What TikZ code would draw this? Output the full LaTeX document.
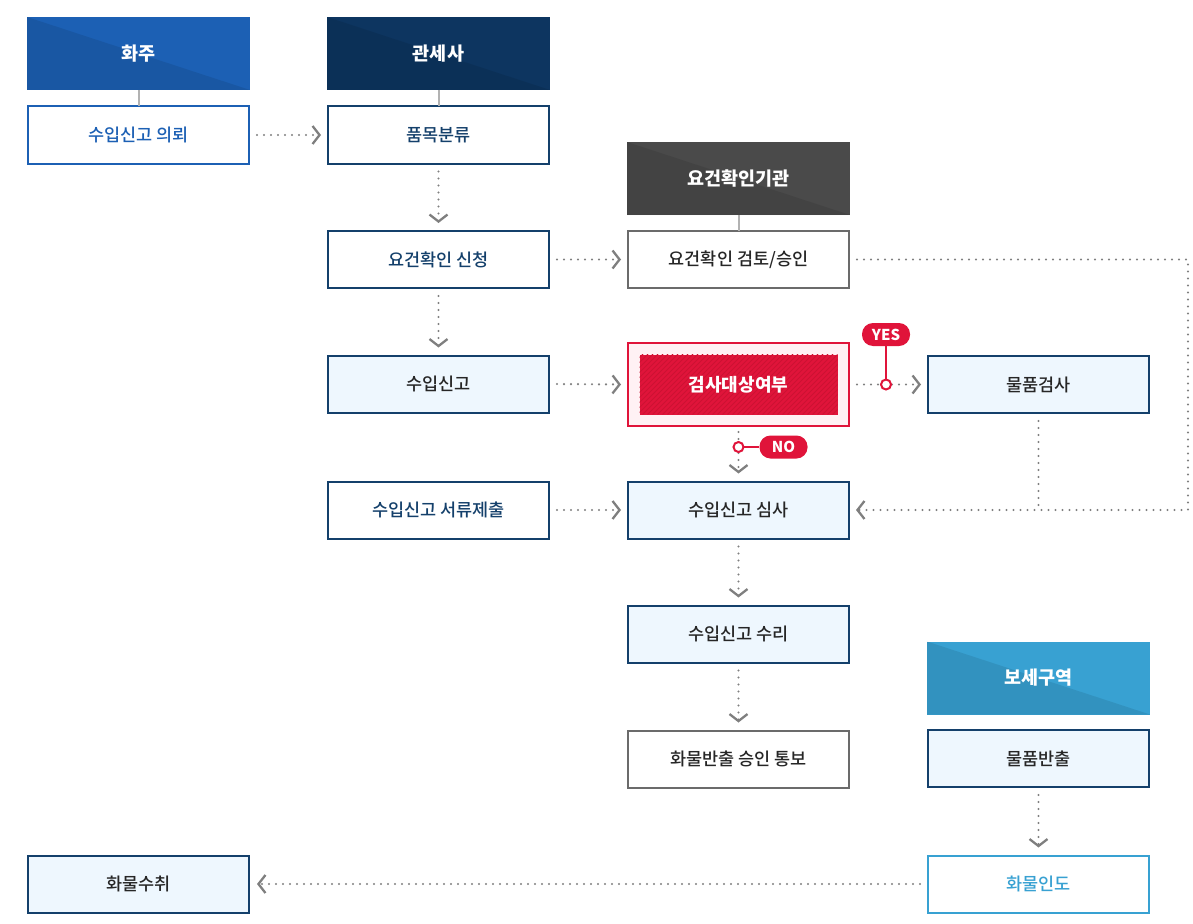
\documentclass[tikz,border=0pt]{standalone}
\usepackage{fontspec}
\setmainfont{Noto Sans CJK KR}
\newfontfamily\medfont{Noto Sans CJK KR Medium}
\usetikzlibrary{positioning,arrows.meta}

\definecolor{shipblue}{HTML}{1C60B4}
\definecolor{brokernavy}{HTML}{0D3560}
\definecolor{agencygray}{HTML}{4A4A4A}
\definecolor{bondblue}{HTML}{38A1D2}
\definecolor{navyline}{HTML}{14406B}
\definecolor{paleblue}{HTML}{EEF7FE}
\definecolor{alertred}{HTML}{E0143A}
\definecolor{hatchred}{HTML}{CC1232}
\definecolor{palered}{HTML}{FFF1F4}
\definecolor{dotgray}{HTML}{7F7F7F}
\definecolor{boxgray}{HTML}{6B6B6B}

\begin{document}
\begin{tikzpicture}[x=1pt, y=1pt,
    every node/.style={font=\medfont\fontsize{17.5pt}{20pt}\selectfont},
    head/.style={minimum width=223pt, minimum height=73pt, inner sep=0pt, outer sep=0pt,
        text=white, font=\fontsize{18.5pt}{20pt}\selectfont\bfseries,
        path picture={\fill[black, opacity=0.09]
            (path picture bounding box.north west) --
            (path picture bounding box.south east) --
            (path picture bounding box.south west) -- cycle;}},
    card/.style={draw, line width=2pt, minimum width=221pt, minimum height=57pt,
        inner sep=0pt, outer sep=0pt},
    bluebox/.style={card, draw=shipblue, fill=white, text=shipblue},
    navybox/.style={card, draw=navyline, fill=white, text=navyline},
    fillbox/.style={card, draw=navyline, fill=paleblue, text=black!85},
    graybox/.style={card, draw=boxgray, fill=white, text=black!85},
    lightbox/.style={card, draw=bondblue, fill=white, text=bondblue},
    flow/.style={draw=dotgray, line width=2.4pt, line cap=round, dash pattern=on 0pt off 7pt,
        -{Straight Barb[length=7pt, width=18pt, line width=2.3pt]}},
    dots/.style={draw=dotgray, line width=2.4pt, line cap=round, dash pattern=on 0pt off 7pt},
    stem/.style={draw=black!30, line width=2pt},
    badge/.style={fill=alertred, text=white, rounded corners=11pt, minimum width=48pt,
        minimum height=23pt, inner sep=0pt, font=\fontsize{15pt}{16pt}\selectfont\bfseries},
    ring/.style={circle, draw=alertred, fill=white, line width=2pt, minimum size=10pt, inner sep=0pt}
]
    \useasboundingbox (0,0) rectangle (1193,-923);

    \node[head, fill=shipblue] (shipper head) at (138.5,-53.5) {화주};
    \node[bluebox, below=16.5pt of shipper head] (import request) {수입신고 의뢰};
    \draw[stem] (shipper head) -- (import request);

    \node[head, fill=brokernavy] (broker head) at (438.5,-53.5) {관세사};
    \node[navybox, below=16.5pt of broker head] (classification) {품목분류};
    \node[navybox, below=67.5pt of classification] (requirement request) {요건확인 신청};
    \node[fillbox, below=67.5pt of requirement request] (import declaration) {수입신고};
    \node[navybox, below=69pt of import declaration] (document submission) {수입신고 서류제출};
    \draw[stem] (broker head) -- (classification);

    \node[head, fill=agencygray] (agency head) at (738.5,-178.5) {요건확인기관};
    \node[graybox, below=16pt of agency head] (requirement review) {요건확인 검토/승인};
    \draw[stem] (agency head) -- (requirement review);

    \node[draw=alertred, fill=palered, line width=2pt, minimum width=221pt, minimum height=83pt,
        inner sep=0pt, outer sep=0pt, below=55pt of requirement review] (inspection check) {};
    \node[fill=alertred, minimum width=198pt, minimum height=60pt, inner sep=0pt,
        path picture={\foreach \s in {0,5,...,260}
            \draw[hatchred, line width=0.9pt]
                ([xshift=\s pt-62pt]path picture bounding box.south west) -- ++(62pt,62pt);}]
        (inspection inner) at (inspection check.center) {};
    \node[text=white, font=\fontsize{18pt}{20pt}\selectfont\bfseries] (inspection label) at (inspection check.center) {검사대상여부};

    \node[fillbox, below=55.5pt of inspection check] (import review) {수입신고 심사};
    \node[fillbox, below=67pt of import review] (import acceptance) {수입신고 수리};
    \node[graybox, below=68pt of import acceptance] (release notice) {화물반출 승인 통보};

    \node[fillbox, right=79pt of inspection check] (goods inspection) {물품검사};
    \node[head, fill=bondblue] (bonded head) at (1038.5,-678) {보세구역};
    \node[fillbox, below=15.5pt of bonded head] (goods release) {물품반출};
    \node[lightbox, below=68.5pt of goods release] (cargo delivery) {화물인도};
    \node[fillbox] (cargo receipt) at (import request |- cargo delivery) {화물수취};

    \draw[flow] ([xshift=8pt]import request.east) -- ([xshift=-7pt]classification.west);
    \draw[flow] ([yshift=-8pt]classification.south) -- ([yshift=8pt]requirement request.north);
    \draw[flow] ([xshift=8pt]requirement request.east) -- ([xshift=-7pt]requirement review.west);
    \draw[flow] ([yshift=-8pt]requirement request.south) -- ([yshift=8pt]import declaration.north);
    \draw[flow] ([xshift=8pt]import declaration.east) -- ([xshift=-7pt]inspection check.west);
    \draw[flow] ([xshift=8pt]document submission.east) -- ([xshift=-7pt]import review.west);
    \draw[flow] ([yshift=-6pt]inspection check.south) -- ([yshift=8pt]import review.north);
    \draw[flow] ([yshift=-8pt]import review.south) -- ([yshift=8pt]import acceptance.north);
    \draw[flow] ([yshift=-8pt]import acceptance.south) -- ([yshift=8pt]release notice.north);
    \draw[flow] ([xshift=8pt]inspection check.east) -- ([xshift=-7pt]goods inspection.west);
    \draw[flow] ([yshift=-8pt]goods release.south) -- ([yshift=8pt]cargo delivery.north);
    \draw[flow] ([xshift=-8pt]cargo delivery.west) -- ([xshift=8pt]cargo receipt.east);

    \coordinate (loop right) at (1188,0);
    \draw[flow] ([xshift=8pt]requirement review.east) -- (loop right |- requirement review)
        -- (loop right |- import review) -- ([xshift=7pt]import review.east);
    \draw[dots] ([yshift=-8pt]goods inspection.south) -- (goods inspection.south |- import review);

    \coordinate (yes dot) at ([xshift=37pt]inspection check.east);
    \node[badge] (yes badge) at ([yshift=50pt]yes dot) {YES};
    \draw[alertred, line width=2pt] (yes dot) -- (yes badge);
    \node[ring] (yes ring) at (yes dot) {};

    \coordinate (no dot) at ([yshift=-21pt]inspection check.south);
    \node[badge] (no badge) at ([xshift=45pt]no dot) {NO};
    \draw[alertred, line width=2pt] (no dot) -- (no badge);
    \node[ring] (no ring) at (no dot) {};
\end{tikzpicture}
\end{document}
